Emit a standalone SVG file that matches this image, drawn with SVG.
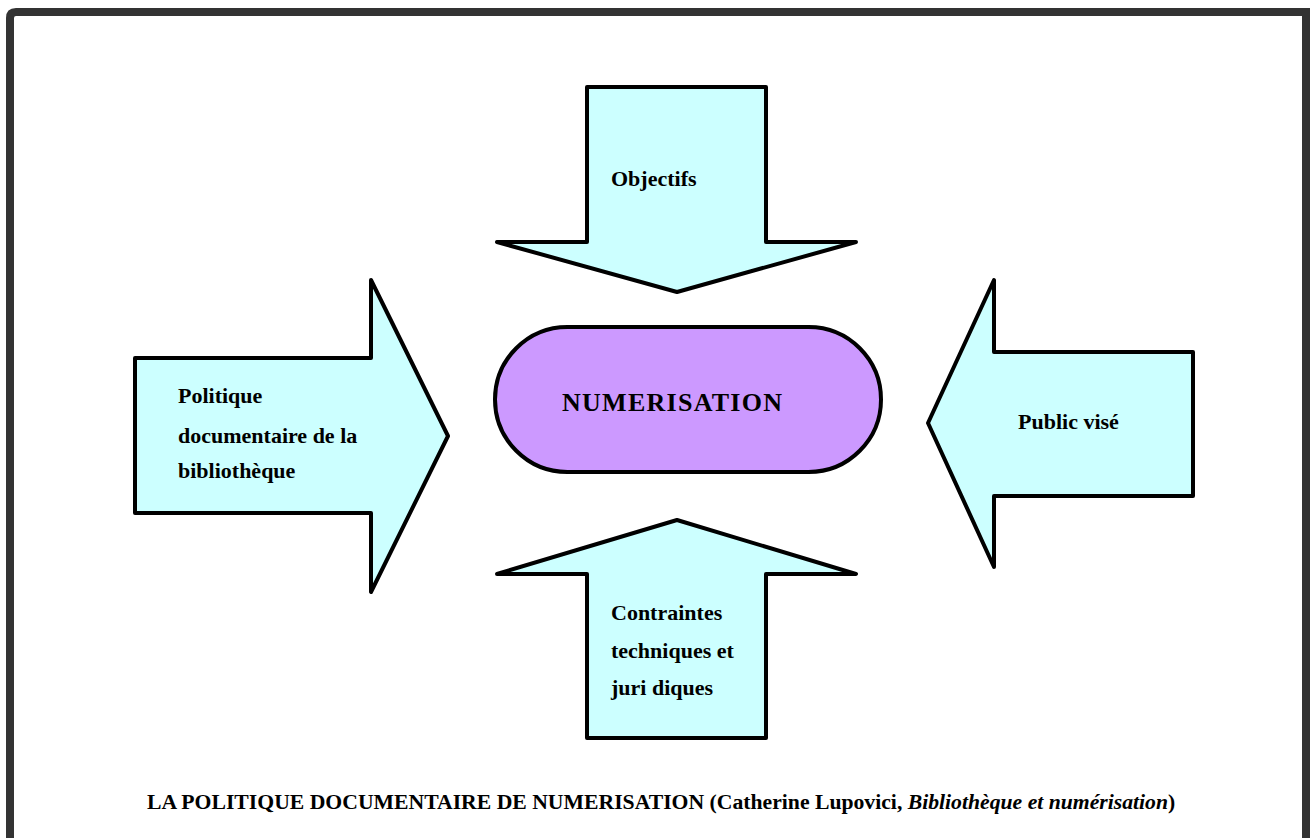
<svg xmlns="http://www.w3.org/2000/svg" width="1310" height="838" viewBox="0 0 1310 838">
  <style>
    .arrow { fill: #CCFFFF; stroke: #000000; stroke-width: 4; stroke-linejoin: round; }
    .pill { fill: #CC99FF; stroke: #000000; stroke-width: 4; }
    .lbl { font-family: "Liberation Serif", "Times New Roman", serif; font-weight: bold; font-size: 22px; fill: #000000; }
    .big { font-family: "Liberation Serif", "Times New Roman", serif; font-weight: bold; font-size: 26px; fill: #000000; }
    .cap { font-family: "Liberation Serif", "Times New Roman", serif; font-weight: bold; font-size: 21.7px; fill: #000000; }
  </style>
  <rect x="0" y="0" width="1310" height="838" fill="#FFFFFF"/>
  <path d="M10,850 L10,18 Q10,12 16,12 L1306,12 L1306,850" fill="none" stroke="#333333" stroke-width="8"/>

  <g id="arrow-top">
    <polygon class="arrow" points="587,87 766,87 766,242 856,242 677,292 497,242 587,242"/>
    <text class="lbl" x="611" y="186">Objectifs</text>
  </g>

  <g id="arrow-left">
    <polygon class="arrow" points="135,358 371,358 371,280 448,436 371,592 371,513 135,513"/>
    <text class="lbl" x="178" y="403">Politique</text>
    <text class="lbl" x="178" y="443">documentaire de la</text>
    <text class="lbl" x="178" y="478">bibliothèque</text>
  </g>

  <g id="arrow-right">
    <polygon class="arrow" points="994,280 994,352 1193,352 1193,496 994,496 994,567 928,423"/>
    <text class="lbl" x="1018" y="429">Public visé</text>
  </g>

  <g id="arrow-bottom">
    <polygon class="arrow" points="677,520 856,574 766,574 766,738 587,738 587,574 497,574"/>
    <text class="lbl" x="611" y="620">Contraintes</text>
    <text class="lbl" x="611" y="658">techniques et</text>
    <text class="lbl" x="611" y="695">juri diques</text>
  </g>

  <g id="center">
    <rect class="pill" x="495" y="327" width="386" height="145" rx="72.5" ry="72.5"/>
    <text class="big" x="562" y="411" textLength="220" lengthAdjust="spacing">NUMERISATION</text>
  </g>

  <g id="connectors"></g>

  <g id="caption">
    <text class="cap" x="147" y="809">LA POLITIQUE DOCUMENTAIRE DE NUMERISATION (Catherine Lupovici, <tspan font-style="italic">Bibliothèque et numérisation</tspan>)</text>
  </g>
</svg>
